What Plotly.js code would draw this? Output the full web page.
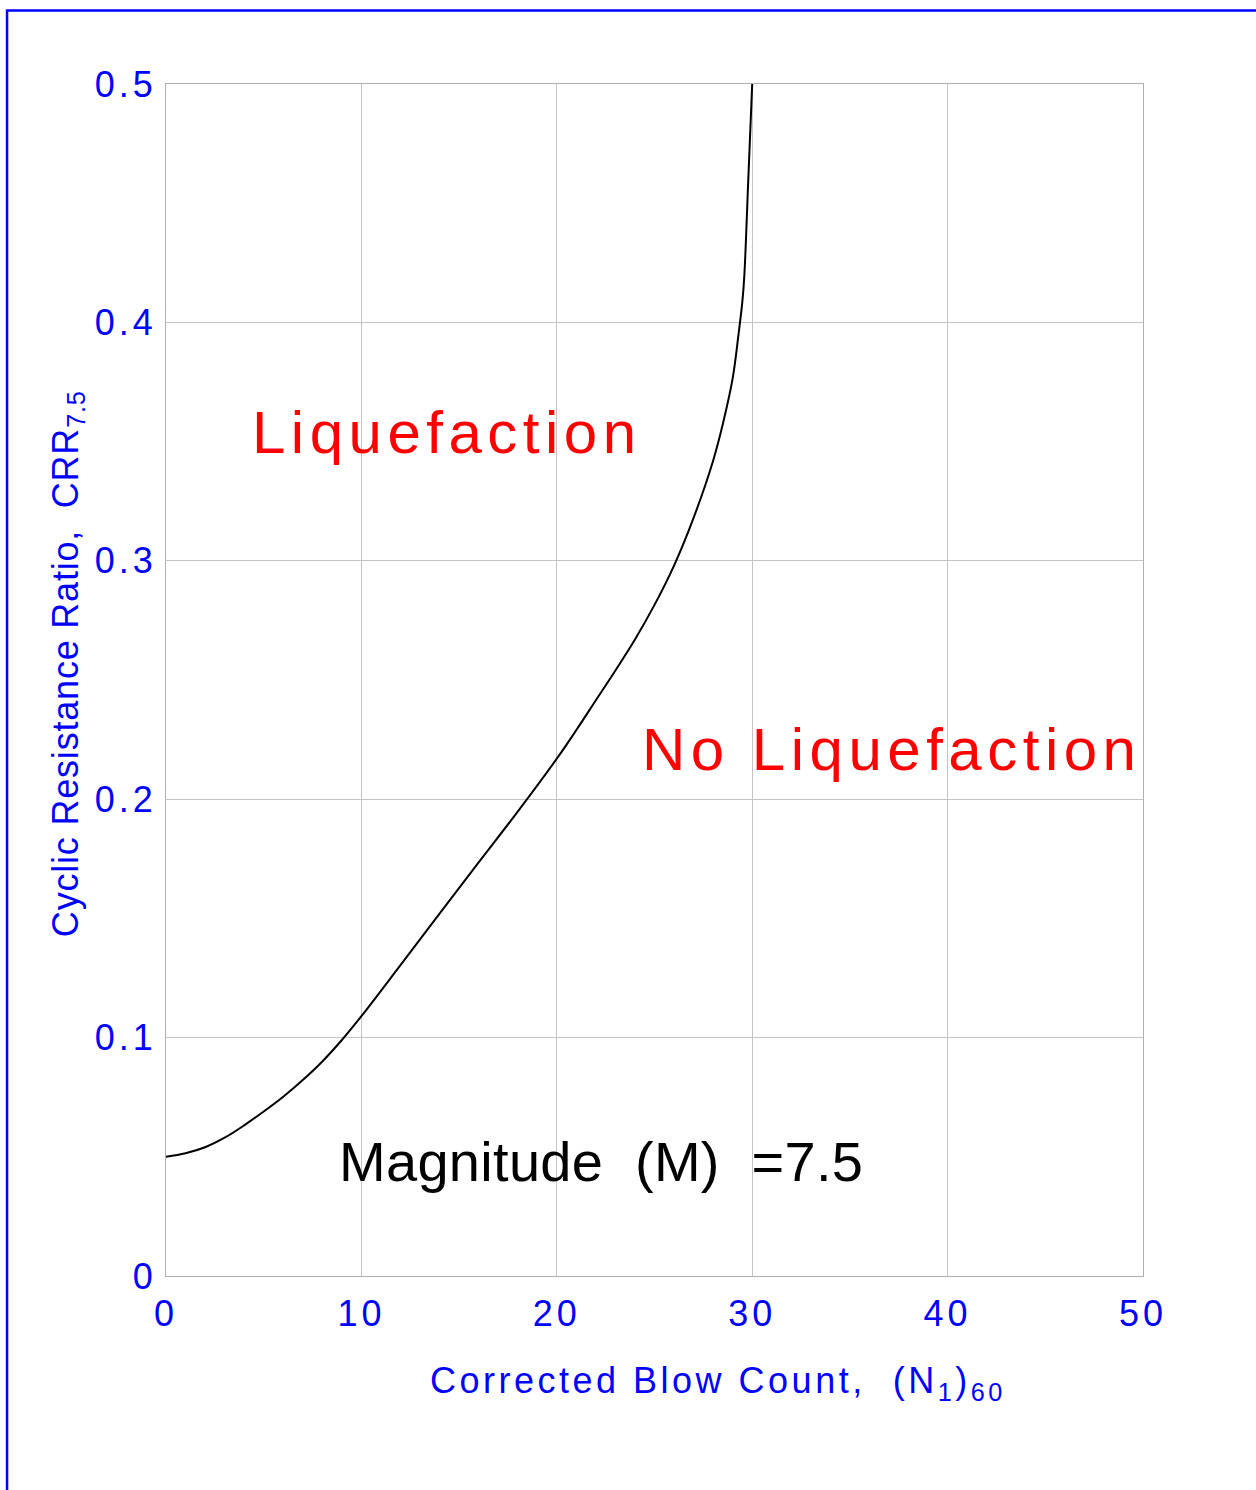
<!DOCTYPE html>
<html>
<head>
<meta charset="utf-8">
<script src="https://cdn.plot.ly/plotly-3.0.1.min.js"></script>
<style>
  html, body { margin: 0; padding: 0; background: #ffffff; }
  #chart { width: 1256px; height: 1490px; }
  .xtick text, .ytick text { letter-spacing: 4px; }
</style>
</head>
<body>
<div id="chart"></div>
<script>
// Corrected blow count (N1)60
const blowCount = [0, 1, 2, 3, 4, 5, 6, 7, 8, 9, 10, 12, 14, 16, 18, 20, 21, 22, 23, 24, 25, 26, 27, 28, 28.5, 29, 29.3, 29.5, 29.6, 29.8, 30];
// Cyclic resistance ratio CRR7.5
const crr = [0.050, 0.0515, 0.054, 0.058, 0.0632, 0.069, 0.0752, 0.0822, 0.0900, 0.0990, 0.1090, 0.1304, 0.152, 0.1735, 0.1948, 0.217, 0.229, 0.2415, 0.254, 0.267, 0.2815, 0.298, 0.318, 0.342, 0.3575, 0.3765, 0.395, 0.409, 0.420, 0.460, 0.500];

const xTicks = [0, 10, 20, 30, 40, 50];
const yTicks = [0, 0.1, 0.2, 0.3, 0.4, 0.5];
const yTickText = ["0", "0.1", "0.2", "0.3", "0.4", "0.5"];

const regionLabels = ["Liquefaction", "No Liquefaction"];
const regionX = [4.3, 24.25];
const regionY = [0.354, 0.221];
const magnitudeLabel = "Magnitude\u00a0\u00a0(M)\u00a0\u00a0=7.5";

const FONT = "Liberation Sans, Arial, Helvetica, sans-serif";
const BLUE = "#0000ff";

const trace = {
  x: blowCount,
  y: crr,
  type: "scatter",
  mode: "lines",
  line: { color: "#000000", width: 2, shape: "spline", smoothing: 1 },
  hoverinfo: "x+y",
  showlegend: false
};

const layout = {
  width: 1256,
  height: 1490,
  margin: { l: 166, r: 113, t: 84, b: 214 },
  paper_bgcolor: "#ffffff",
  plot_bgcolor: "#ffffff",
  font: { family: FONT, color: BLUE },
  showlegend: false,
  xaxis: {
    range: [0, 50],
    tickvals: xTicks,
    ticktext: xTicks.map(String),
    ticks: "",
    ticklabelstandoff: 6,
    tickfont: { family: FONT, size: 36, color: BLUE },
    showgrid: true,
    gridcolor: "#c4c4c4",
    gridwidth: 1,
    showline: true,
    linecolor: "#b0b0b0",
    linewidth: 1,
    mirror: true,
    zeroline: false,
    fixedrange: true
  },
  yaxis: {
    range: [0, 0.5],
    tickvals: yTicks,
    ticktext: yTickText,
    ticks: "",
    ticklabelstandoff: 1,
    tickfont: { family: FONT, size: 36, color: BLUE },
    showgrid: true,
    gridcolor: "#c4c4c4",
    gridwidth: 1,
    showline: true,
    linecolor: "#b0b0b0",
    linewidth: 1,
    mirror: true,
    zeroline: false,
    fixedrange: true,
    automargin: false,
    title: {
      text: '<span style="letter-spacing:0.8px">\u00a0\u00a0\u00a0Cyclic Resistance Ratio,\u00a0 CRR<sub>7.5</sub></span>',
      font: { family: FONT, size: 36, color: BLUE },
      standoff: 5
    }
  },
  annotations: [
    {
      xref: "paper", yref: "paper",
      x: 0.565, y: -0.09,
      xanchor: "center", yanchor: "middle",
      showarrow: false,
      text: '<span style="letter-spacing:3.5px">Corrected Blow Count,\u00a0 (N<sub>1</sub>)<sub>60</sub></span>',
      font: { family: FONT, size: 36, color: BLUE }
    },
    {
      x: regionX[0], y: regionY[0], xref: "x", yref: "y",
      xanchor: "left", yanchor: "middle", showarrow: false,
      text: '<span style="letter-spacing:5.5px">' + regionLabels[0] + '</span>',
      font: { family: FONT, size: 60, color: "#ff0000" }
    },
    {
      x: regionX[1], y: regionY[1], xref: "x", yref: "y",
      xanchor: "left", yanchor: "middle", showarrow: false,
      text: '<span style="letter-spacing:5.5px">' + regionLabels[1] + '</span>',
      font: { family: FONT, size: 60, color: "#ff0000" }
    },
    {
      x: 8.75, y: 0.0482, xref: "x", yref: "y",
      xanchor: "left", yanchor: "middle", showarrow: false,
      text: '<span style="letter-spacing:0.3px">' + magnitudeLabel + '</span>',
      font: { family: FONT, size: 56, color: "#000000" }
    }
  ],
  shapes: [
    {
      type: "path", xref: "paper", yref: "paper", layer: "above",
      path: "M -0.1627 -0.20 L -0.1627 1.0617 L 1.12 1.0617",
      line: { color: BLUE, width: 2.5 }
    }
  ]
};

Plotly.newPlot("chart", [trace], layout, { displayModeBar: false });
</script>
</body>
</html>
